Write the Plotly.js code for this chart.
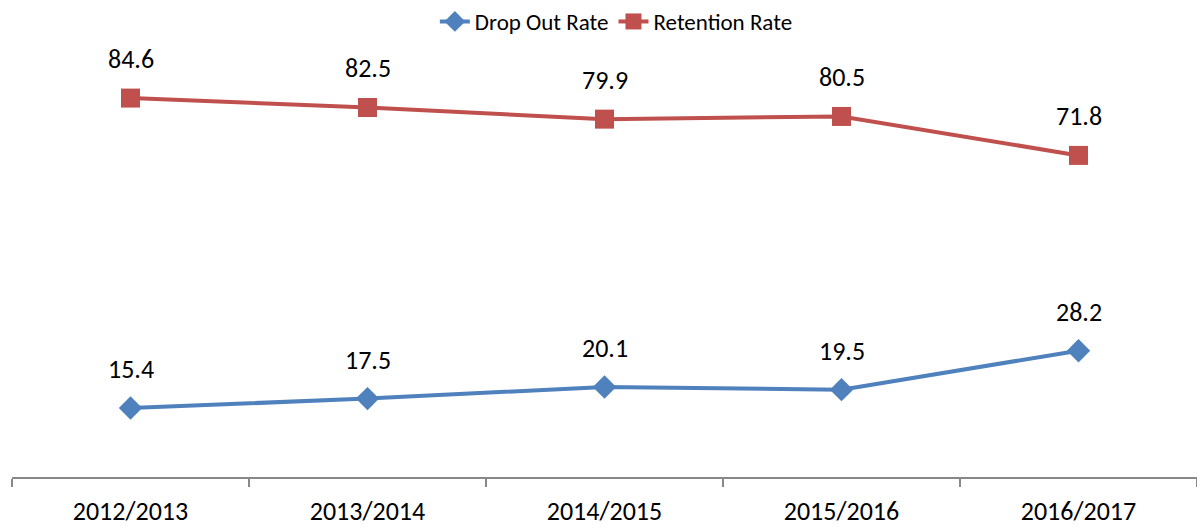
<!DOCTYPE html>
<html><head><meta charset="utf-8">
<script src="https://cdn.plot.ly/plotly-3.0.1.min.js"></script>
<style>html,body{margin:0;padding:0;background:#fff}#chart{width:1197px;height:528px}</style>
</head><body><div id="chart"></div>
<script>
const categories = ["2012/2013", "2013/2014", "2014/2015", "2015/2016", "2016/2017"];
const dropOutRate = [15.4, 17.5, 20.1, 19.5, 28.2];
const retentionRate = [84.6, 82.5, 79.9, 80.5, 71.8];

const FONT = "Carlito, Calibri, 'Open Sans', sans-serif";
const blue = "#4F81BD", red = "#C0504D";

const traces = [
  {x: categories, y: dropOutRate, name: "Drop Out Rate", type: "scatter", mode: "lines+markers",
   line: {color: blue, width: 4}, marker: {symbol: "diamond", size: 18, color: blue}},
  {x: categories, y: retentionRate, name: "Retention Rate", type: "scatter", mode: "lines+markers",
   line: {color: red, width: 4}, marker: {symbol: "square", size: 19, color: red}}
];

const annotations = [];
[dropOutRate, retentionRate].forEach(arr => arr.forEach((v, i) => {
  annotations.push({x: categories[i], y: v, xref: "x", yref: "y", text: v.toFixed(1),
    showarrow: false, yshift: 39, font: {family: FONT, size: 26, color: "#000"}});
}));

const layout = {
  width: 1197, height: 528,
  margin: {l: 12, r: 0, t: 0, b: 51},
  paper_bgcolor: "#fff", plot_bgcolor: "#fff",
  font: {family: FONT, size: 26, color: "#000"},
  showlegend: true,
  legend: {orientation: "h", x: 0.51, xanchor: "center", y: 1, yanchor: "top",
    font: {family: FONT, size: 23, color: "#000"}, itemwidth: 30, traceorder: "normal",
    bgcolor: "rgba(0,0,0,0)"},
  xaxis: {type: "category", range: [-0.5, 4.5], showgrid: false, zeroline: false,
    showline: true, linecolor: "#888", linewidth: 1.5,
    ticks: "outside", ticklen: 8, tickcolor: "#888", tickwidth: 1.5, tickson: "boundaries",
    ticklabelstandoff: 10,
    tickfont: {family: FONT, size: 26, color: "#000"}, fixedrange: true},
  yaxis: {range: [0, 106.5], showgrid: false, zeroline: false, showline: false,
    showticklabels: false, ticks: "", fixedrange: true},
  annotations: annotations
};

Plotly.newPlot("chart", traces, layout, {displayModeBar: false, staticPlot: true});
</script></body></html>
